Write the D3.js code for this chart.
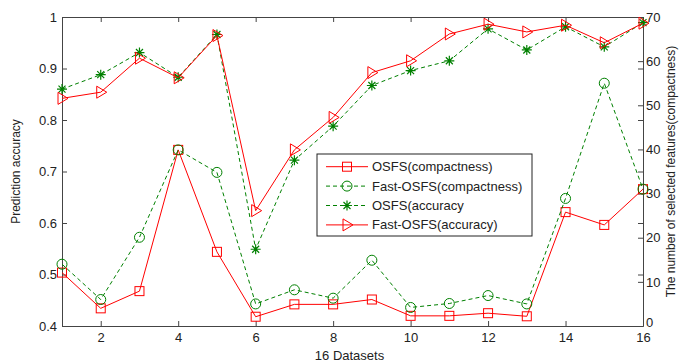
<!DOCTYPE html>
<html>
<head>
<meta charset="utf-8">
<script src="https://cdn.jsdelivr.net/npm/d3@7"></script>
<style>
  body { margin: 0; background: #fff; }
  text { font-family: "Liberation Sans", Arial, sans-serif; }
</style>
</head>
<body>
<div id="chart"></div>
<script>
// data
const datasets = d3.range(1, 17);
const osfsCompact = [12.1, 4.0, 7.9, 39.9, 16.8, 2.1, 4.9, 4.9, 6.0, 2.3, 2.3, 2.9, 2.2, 25.8, 22.9, 31.0];
const fastCompact = [14.0, 6.0, 20.1, 39.9, 34.8, 5.0, 8.2, 6.3, 14.9, 4.2, 5.1, 6.9, 5.0, 28.9, 55.0, 31.0];
const osfsAcc = [0.860, 0.888, 0.931, 0.883, 0.966, 0.549, 0.722, 0.788, 0.867, 0.896, 0.915, 0.977, 0.936, 0.981, 0.942, 0.989];
const fastAcc = [0.842, 0.854, 0.920, 0.882, 0.964, 0.624, 0.742, 0.805, 0.892, 0.915, 0.967, 0.986, 0.971, 0.984, 0.950, 0.988];
const xTicks = [2, 4, 6, 8, 10, 12, 14, 16];
const leftTicks = [0.4, 0.5, 0.6, 0.7, 0.8, 0.9, 1];
const rightTicks = [0, 10, 20, 30, 40, 50, 60, 70];

const W = 692, H = 362;
const M = { top: 17, right: 49, bottom: 36, left: 62 };
const w = W - M.left - M.right, h = H - M.top - M.bottom;

const RED = "#ff0000", GREEN = "#008000", AXIS = "#444";

const svg = d3.select("#chart").append("svg").attr("width", W).attr("height", H);
const g = svg.append("g").attr("transform", `translate(${M.left},${M.top})`);

const x = d3.scaleLinear().domain([1, 16]).range([0, w]);
const yL = d3.scaleLinear().domain([0.4, 1]).range([h, 0]);
const yR = d3.scaleLinear().domain([0, 70]).range([h, 0]);

// axes (ticks pointing inward, box style)
function styleAxis(sel) {
  sel.select(".domain").attr("stroke", AXIS);
  sel.selectAll(".tick line").attr("stroke", AXIS);
  sel.selectAll(".tick text").attr("fill", "#222").attr("font-size", 13)
    .attr("font-family", "'Liberation Sans', Arial, sans-serif");
}
g.append("g").attr("transform", `translate(0,${h})`)
  .call(d3.axisBottom(x).tickValues(xTicks).tickSize(-5).tickPadding(7).tickSizeOuter(0))
  .call(styleAxis);
g.append("g")
  .call(d3.axisTop(x).tickValues(xTicks).tickSize(-5).tickFormat("").tickSizeOuter(0))
  .call(styleAxis);
g.append("g")
  .call(d3.axisLeft(yL).tickValues(leftTicks).tickFormat(d3.format("~g")).tickSize(-5).tickPadding(5).tickSizeOuter(0))
  .call(styleAxis);
g.append("g").attr("transform", `translate(${w},0)`)
  .call(d3.axisRight(yL).tickValues(leftTicks).tickSize(-5).tickFormat("").tickSizeOuter(0))
  .call(styleAxis);
g.append("g").attr("transform", `translate(${w},0)`)
  .call(d3.axisRight(yR).tickValues(rightTicks).tickSize(-5).tickPadding(3).tickSizeOuter(0))
  .call(styleAxis)
  .call((ax) => ax.selectAll(".tick text").filter((d) => d === 0).attr("dy", "0.05em"));

// axis labels
svg.append("text").attr("transform", `translate(20,${M.top + h / 2}) rotate(-90)`)
  .attr("text-anchor", "middle").attr("font-size", 12).attr("fill", "#222").text("Prediction accuracy");
svg.append("text").attr("transform", `translate(675,${M.top + h / 2}) rotate(-90)`)
  .attr("text-anchor", "middle").attr("font-size", 12).attr("fill", "#222")
  .text("The number of selected features(compactness)");
svg.append("text").attr("x", M.left + w / 2 - 3).attr("y", 360)
  .attr("text-anchor", "middle").attr("font-size", 13).attr("fill", "#222").text("16 Datasets");

// markers
function marker(sel, type, color) {
  if (type === "square") {
    sel.append("rect").attr("x", -4.5).attr("y", -4.5).attr("width", 9).attr("height", 9)
      .attr("fill", "none").attr("stroke", color);
  } else if (type === "circle") {
    sel.append("circle").attr("r", 5).attr("fill", "none").attr("stroke", color);
  } else if (type === "star") {
    sel.append("path").attr("d", "M-5,0H5M0,-5V5M-3.5,-3.5L3.5,3.5M-3.5,3.5L3.5,-3.5")
      .attr("stroke", color).attr("stroke-width", 1.2).attr("fill", "none");
  } else if (type === "tri") {
    sel.append("path").attr("d", "M-4,-6L6,0L-4,6Z").attr("fill", "none").attr("stroke", color);
  }
}

const series = [
  { name: "OSFS(accuracy", vals: osfsAcc, y: yL, color: GREEN, dash: "4,3", m: "star" },
  { name: "Fast-OSFS(accuracy)", vals: fastAcc, y: yL, color: RED, dash: null, m: "tri" },
  { name: "OSFS(compactness)", vals: osfsCompact, y: yR, color: RED, dash: null, m: "square" },
  { name: "Fast-OSFS(compactness)", vals: fastCompact, y: yR, color: GREEN, dash: "4,3", m: "circle" },
];

series.forEach((s) => {
  const line = d3.line().x((d, i) => x(datasets[i])).y((d) => s.y(d));
  g.append("path").datum(s.vals).attr("d", line).attr("fill", "none")
    .attr("stroke", s.color).attr("stroke-width", 1).attr("stroke-dasharray", s.dash);
  g.selectAll(null).data(s.vals).join("g")
    .attr("transform", (d, i) => `translate(${x(datasets[i])},${s.y(d)})`)
    .each(function () { marker(d3.select(this), s.m, s.color); });
});

// legend
const legendOrder = [2, 3, 0, 1];
const lg = svg.append("g").attr("transform", "translate(317,154)");
lg.append("rect").attr("width", 215).attr("height", 82).attr("fill", "#fff").attr("stroke", "#222");
legendOrder.forEach((k, i) => {
  const s = series[k];
  const row = lg.append("g").attr("transform", `translate(0,${12.7 + i * 19.4})`);
  row.append("line").attr("x1", 9).attr("x2", 51).attr("stroke", s.color)
    .attr("stroke-dasharray", s.dash);
  marker(row.append("g").attr("transform", "translate(30,0)"), s.m, s.color);
  row.append("text").attr("x", 55).attr("y", 4.5).attr("font-size", 13).attr("fill", "#222").text(s.name);
});
</script>
</body>
</html>
